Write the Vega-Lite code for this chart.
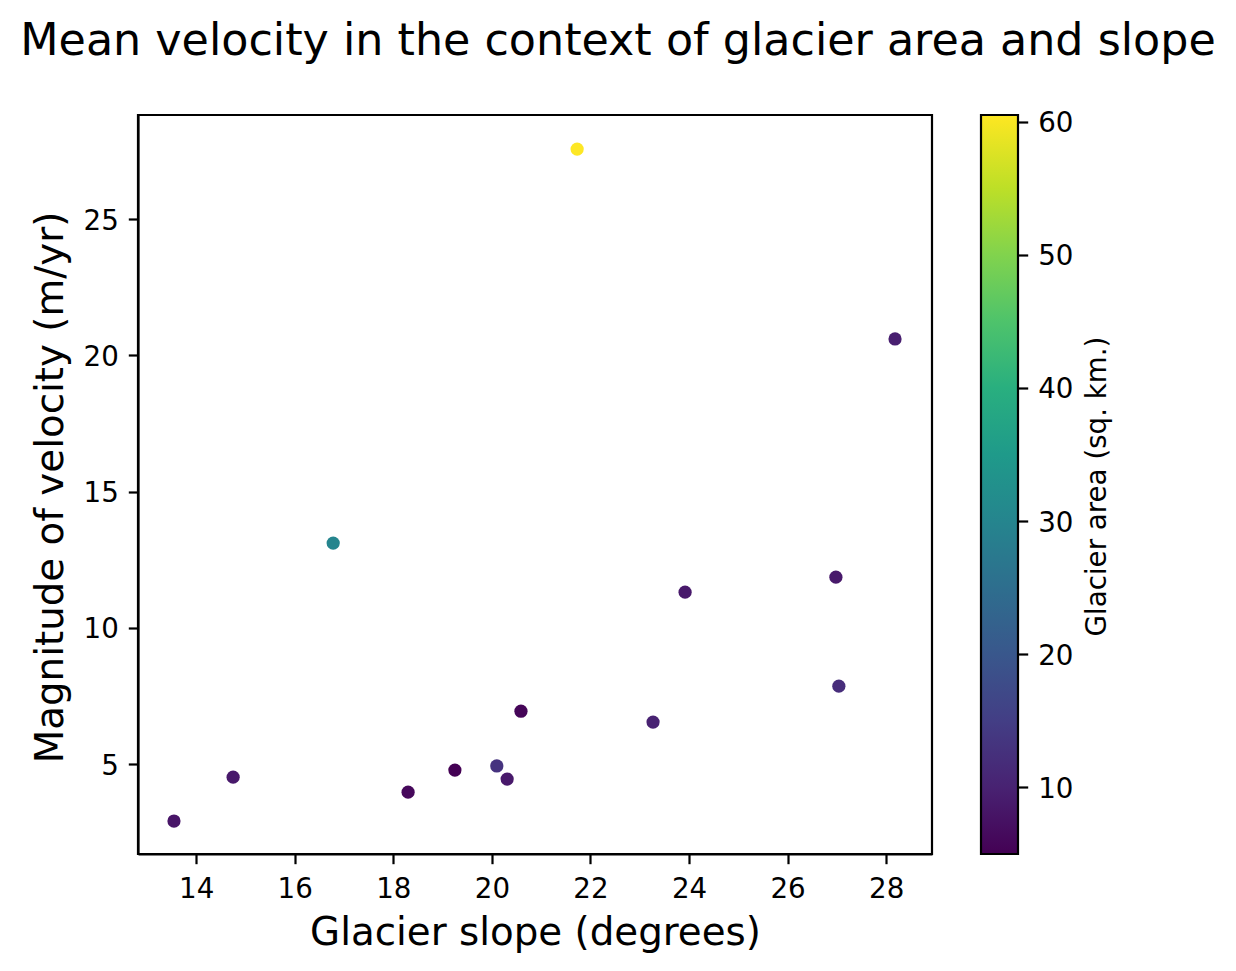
{
  "$schema": "https://vega.github.io/schema/vega-lite/v6.json",
  "width": 794,
  "height": 739,
  "autosize": {"type": "none"},
  "padding": {"left": 138, "top": 115, "right": 304, "bottom": 117},
  "background": "white",
  "title": {
    "text": "Mean velocity in the context of glacier area and slope",
    "font": "DejaVu Sans",
    "fontSize": 44.4,
    "fontWeight": "normal",
    "color": "black",
    "anchor": "middle",
    "dx": 83,
    "offset": 45
  },
  "data": {
    "values": [
      {"slope": 13.55, "velocity": 2.91, "area": 8},
      {"slope": 14.75, "velocity": 4.52, "area": 8.5},
      {"slope": 16.78, "velocity": 13.11, "area": 30},
      {"slope": 18.3, "velocity": 3.97, "area": 6},
      {"slope": 19.25, "velocity": 4.78, "area": 5},
      {"slope": 20.1, "velocity": 4.93, "area": 13},
      {"slope": 20.31, "velocity": 4.45, "area": 8.5},
      {"slope": 20.59, "velocity": 6.94, "area": 5.5},
      {"slope": 21.73, "velocity": 27.57, "area": 60.5},
      {"slope": 23.27, "velocity": 6.54, "area": 10},
      {"slope": 23.92, "velocity": 11.31, "area": 8.5},
      {"slope": 26.98, "velocity": 11.86, "area": 8.5},
      {"slope": 27.04, "velocity": 7.86, "area": 12},
      {"slope": 28.18, "velocity": 20.6, "area": 9.5}
    ]
  },
  "encoding": {
    "x": {
      "field": "slope",
      "type": "quantitative",
      "title": "Glacier slope (degrees)",
      "scale": {"domain": [12.82, 28.93], "nice": false, "zero": false},
      "axis": {
        "values": [14, 16, 18, 20, 22, 24, 26, 28],
        "grid": false,
        "tickColor": "black",
        "tickSize": 9.7,
        "tickWidth": 2.2,
        "domainColor": "black",
        "domainWidth": 2.2,
        "labelColor": "black",
        "labelFont": "DejaVu Sans",
        "labelFontSize": 27.7,
        "labelPadding": 12,
        "titleColor": "black",
        "titleFont": "DejaVu Sans",
        "titleFontSize": 38.8,
        "titleFontWeight": "normal",
        "titleY": 59
      }
    }
  },
  "layer": [
    {
      "mark": {"type": "circle", "size": 175, "opacity": 1},
      "encoding": {
        "y": {
          "field": "velocity",
          "type": "quantitative",
          "title": "Magnitude of velocity (m/yr)",
          "scale": {"domain": [1.7, 28.82], "nice": false, "zero": false},
          "axis": {
            "values": [5, 10, 15, 20, 25],
            "grid": false,
            "tickColor": "black",
            "tickSize": 9.7,
            "tickWidth": 2.2,
            "domainColor": "black",
            "domainWidth": 2.2,
            "labelColor": "black",
            "labelFont": "DejaVu Sans",
            "labelFontSize": 27.7,
            "labelPadding": 10,
            "labelOffset": 2,
            "titleColor": "black",
            "titleFont": "DejaVu Sans",
            "titleFontSize": 38.8,
            "titleFontWeight": "normal",
            "titleX": -68,
            "titleY": 372
          }
        },
        "color": {
          "field": "area",
          "type": "quantitative",
          "title": null,
          "scale": {"scheme": "viridis", "domain": [5, 60.5], "nice": false, "zero": false},
          "legend": {
            "orient": "none",
            "legendX": 843,
            "legendY": 0,
            "direction": "vertical",
            "gradientLength": 739,
            "gradientThickness": 37,
            "gradientStrokeColor": "black",
            "gradientStrokeWidth": 2.2,
            "values": []
          }
        }
      }
    },
    {
      "transform": [{"filter": "false"}],
      "mark": {"type": "circle", "opacity": 0},
      "encoding": {
        "y": {
          "field": "area",
          "type": "quantitative",
          "title": "Glacier area (sq. km.)",
          "scale": {"domain": [5, 60.5], "nice": false, "zero": false},
          "axis": {
            "orient": "right",
            "offset": 86,
            "values": [10, 20, 30, 40, 50, 60],
            "grid": false,
            "domain": false,
            "tickColor": "black",
            "tickSize": 9.7,
            "tickWidth": 2.2,
            "labelColor": "black",
            "labelFont": "DejaVu Sans",
            "labelFontSize": 27.7,
            "labelPadding": 10,
            "labelOffset": 2,
            "titleColor": "black",
            "titleFont": "DejaVu Sans",
            "titleFontSize": 27.7,
            "titleFontWeight": "normal",
            "titleAngle": 270,
            "titleBaseline": "bottom",
            "titleX": 93,
            "titleY": 371
          }
        }
      }
    }
  ],
  "resolve": {"scale": {"y": "independent"}},
  "config": {
    "view": {"stroke": "black", "strokeWidth": 2.2}
  }
}
